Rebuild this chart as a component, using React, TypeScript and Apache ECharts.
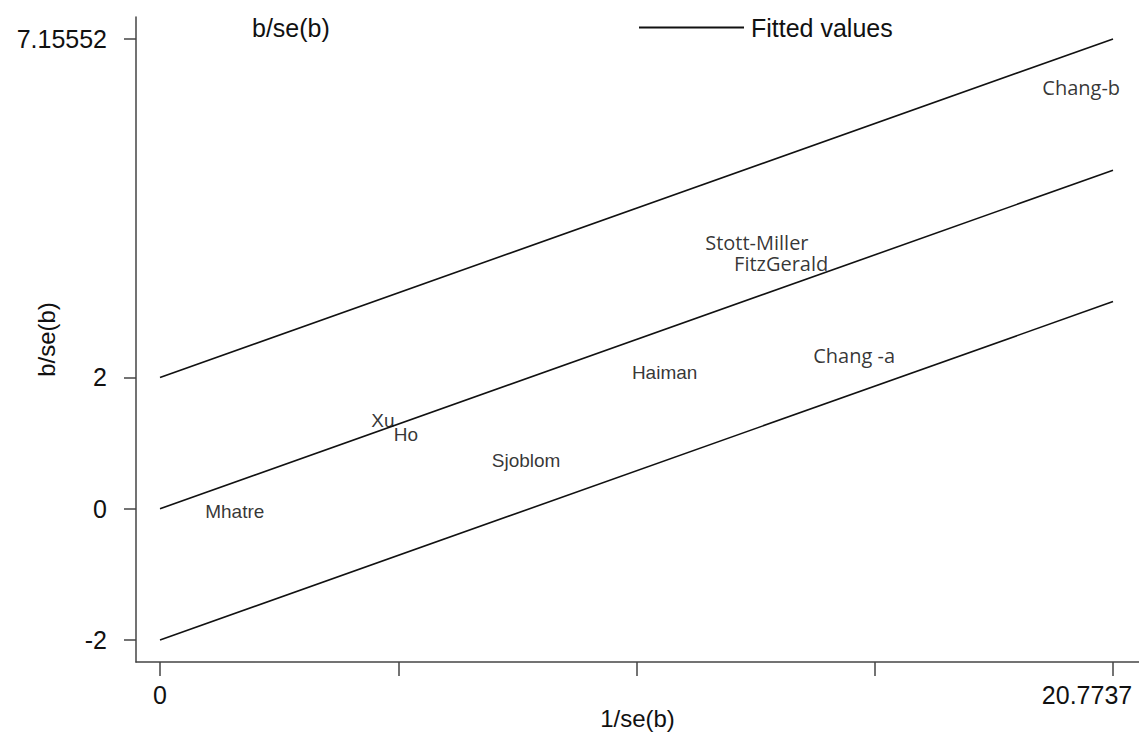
import React, { useEffect, useRef } from "react";
import * as echarts from "echarts";

const studyNames = ["Mhatre", "Xu", "Ho", "Sjoblom", "Haiman", "Stott-Miller", "FitzGerald", "Chang -a", "Chang-b"];
const precisionX = [1.63, 4.86, 5.36, 7.98, 11.0, 13.01, 13.54, 15.13, 20.08];
const zScoreY = [-0.04, 1.35, 1.13, 0.74, 2.07, 4.05, 3.74, 2.33, 6.41];
const labelFonts = ["Liberation Sans", "Liberation Sans", "Liberation Sans", "Liberation Sans", "Liberation Sans", "Open Sans", "Open Sans", "Open Sans", "Open Sans"];

const xMax = 20.7737;
const fittedX = [0, xMax];
const fittedCenter = [0, 5.15552];
const fittedUpper = [2, 7.15552];
const fittedLower = [-2, 3.15552];

const xTickValues = [0, 5.193425, 10.38685, 15.580275, 20.7737];
const xLabelValues = [0, 20.7737];
const yTickValues = [-2, 0, 2, 7.15552];

const fmt = (v: number) => {
  const known = [20.7737, 7.15552, -2, 0, 2];
  for (const k of known) if (Math.abs(v - k) < 1e-6) return String(k);
  return String(v);
};

export default function App() {
  const ref = useRef<HTMLDivElement>(null);
  useEffect(() => {
    if (!ref.current) return;
    const chart = echarts.init(ref.current, null, { renderer: "svg" });
    const lineStyle = { color: "#111", width: 1.6 };
    chart.setOption({
      animation: false,
      backgroundColor: "#fff",
      textStyle: { fontFamily: "Liberation Sans" },
      grid: { left: 136, top: 17, right: 0, bottom: 70, containLabel: false, outerBoundsMode: "none" },
      legend: [
        {
          left: 140,
          top: 10,
          itemWidth: 102,
          itemHeight: 10,
          data: [{ name: "b/se(b)", icon: "none" }],
          textStyle: { fontSize: 25, color: "#111", fontFamily: "Liberation Sans" },
          selectedMode: false,
        },
        {
          left: 634,
          top: 10,
          itemWidth: 105,
          itemHeight: 2,
          data: [{ name: "Fitted values", icon: "rect" }],
          textStyle: { fontSize: 25, color: "#111", fontFamily: "Liberation Sans", padding: [0, 0, 0, 2] },
          selectedMode: false,
        },
      ],
      xAxis: {
        type: "value",
        min: -0.523,
        max: 21.34,
        name: "1/se(b)",
        nameLocation: "middle",
        nameGap: 44,
        nameMoveOverlap: false,
        nameTextStyle: { fontSize: 24, color: "#111" },
        axisLine: { show: true, onZero: false, lineStyle: { color: "#444", width: 1.5 } },
        axisTick: { show: true, length: 14, customValues: xTickValues, lineStyle: { color: "#444", width: 1.5 } },
        axisLabel: {
          customValues: xLabelValues,
          formatter: (v: number) => (Math.abs(v - xMax) < 1e-6 ? "{m|" + fmt(v) + "}" : "{n|" + fmt(v) + "}"),
          rich: {
            m: { fontSize: 25, color: "#111", fontFamily: "Liberation Sans", padding: [0, 52, 0, 0] },
            n: { fontSize: 25, color: "#111", fontFamily: "Liberation Sans" },
          },
          fontSize: 25,
          color: "#111",
          margin: 20,
          showMinLabel: true,
          showMaxLabel: true,
          hideOverlap: false,
        },
        splitLine: { show: false },
      },
      yAxis: {
        type: "value",
        min: -2.335,
        max: 7.49,
        name: "b/se(b)",
        nameLocation: "middle",
        nameGap: 78,
        nameMoveOverlap: false,
        nameTextStyle: { fontSize: 24, color: "#111" },
        axisLine: { show: true, onZero: false, lineStyle: { color: "#444", width: 1.5 } },
        axisTick: { show: true, length: 12, customValues: yTickValues, lineStyle: { color: "#444", width: 1.5 } },
        axisLabel: { customValues: yTickValues, formatter: fmt, fontSize: 25, color: "#111", margin: 29 },
        splitLine: { show: false },
      },
      series: [
        {
          name: "b/se(b)",
          type: "scatter",
          symbolSize: 0,
          itemStyle: { color: "transparent" },
          data: studyNames.map((n, i) => ({
            name: n,
            value: [precisionX[i], zScoreY[i]],
            label: {
              fontFamily: labelFonts[i],
              fontSize: labelFonts[i] === "Open Sans" ? 20 : 19,
              lineHeight: 16,
            },
          })),
          label: {
            show: true,
            position: "inside",
            formatter: (p: any) => p.name,
            color: "#000",
          },
          labelLayout: { hideOverlap: false },
          silent: true,
        },
        {
          name: "Fitted values",
          type: "line",
          symbol: "none",
          lineStyle,
          itemStyle: { color: "#111" },
          data: fittedX.map((x, i) => [x, fittedCenter[i]]),
        },
        {
          name: "upper",
          type: "line",
          symbol: "none",
          lineStyle,
          itemStyle: { color: "#111" },
          data: fittedX.map((x, i) => [x, fittedUpper[i]]),
        },
        {
          name: "lower",
          type: "line",
          symbol: "none",
          lineStyle,
          itemStyle: { color: "#111" },
          data: fittedX.map((x, i) => [x, fittedLower[i]]),
        },
      ],
    });
    return () => chart.dispose();
  }, []);
  return (
    <div
      ref={ref}
      style={{ position: "fixed", left: 0, top: 0, width: 1139, height: 732, background: "#fff" }}
    />
  );
}
